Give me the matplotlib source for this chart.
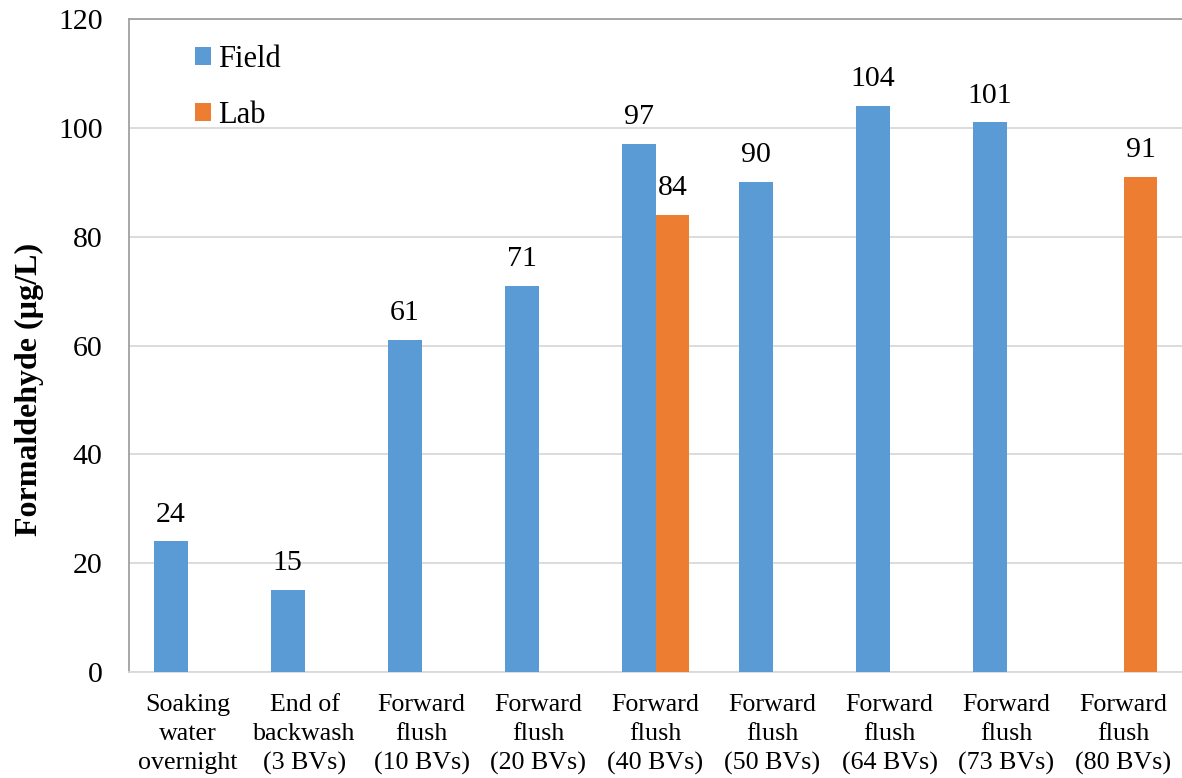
import numpy as np
import matplotlib
matplotlib.use("Agg")
import matplotlib.pyplot as plt

categories = ["Soaking\nwater\novernight", "End of\nbackwash\n(3 BVs)", "Forward\nflush\n(10 BVs)",
              "Forward\nflush\n(20 BVs)", "Forward\nflush\n(40 BVs)", "Forward\nflush\n(50 BVs)",
              "Forward\nflush\n(64 BVs)", "Forward\nflush\n(73 BVs)", "Forward\nflush\n(80 BVs)"]
field = [24, 15, 61, 71, 97, 90, 104, 101, np.nan]
lab = [np.nan, np.nan, np.nan, np.nan, 84, np.nan, np.nan, np.nan, 91]
yticks = [0, 20, 40, 60, 80, 100, 120]

plt.rcParams['font.family'] = ['Liberation Serif', 'DejaVu Serif']

fig = plt.figure(figsize=(11.82, 7.78), dpi=100)
ax = fig.add_axes([129/1182, 1-672/778, 1-129/1182, (672-19)/778])

x = np.arange(len(categories))
w = 0.29
b1 = ax.bar(x - w/2, field, w, color="#5B9BD5", label="Field", zorder=3)
b2 = ax.bar(x + w/2, lab, w, color="#ED7D31", label="Lab", zorder=3)
ax.bar_label(b1, labels=["" if np.isnan(v) else f"{v:g}" for v in field], padding=10, fontsize=21.5)
ax.bar_label(b2, labels=["" if np.isnan(v) else f"{v:g}" for v in lab], padding=10, fontsize=21.5)

ax.set_xlim(-0.5, len(categories) - 0.5)
ax.set_ylim(0, 120)
ax.set_yticks(yticks)
ax.set_xticks(x)
ax.set_xticklabels(categories, fontsize=18.7, linespacing=1.4)
ax.tick_params(axis='y', labelsize=21.5, length=0, pad=19)
ax.tick_params(axis='x', length=0, pad=16)
ax.grid(axis='y', color="#d9d9d9", linewidth=1.3, zorder=0)
ax.set_axisbelow(True)
ax.spines['right'].set_visible(False)
ax.spines['top'].set_color("#a0a0a0")
ax.spines['left'].set_color("#a0a0a0")
ax.spines['bottom'].set_color("#d9d9d9")
for s in ['left', 'top', 'bottom']:
    ax.spines[s].set_linewidth(1.3)

ax.set_ylabel("Formaldehyde (µg/L)", fontsize=23, fontweight='bold')
ax.yaxis.set_label_coords(-(129 - 44) / (1182 - 129), (672 - 389) / 653)

leg = ax.legend(loc='upper left', bbox_to_anchor=(195/1182, 1-45/778), bbox_transform=fig.transFigure,
                frameon=False, fontsize=22, handlelength=0.52, handleheight=0.52,
                handletextpad=0.25, labelspacing=0.87, borderpad=0, borderaxespad=0)

fig.savefig("out.png", dpi=100)
